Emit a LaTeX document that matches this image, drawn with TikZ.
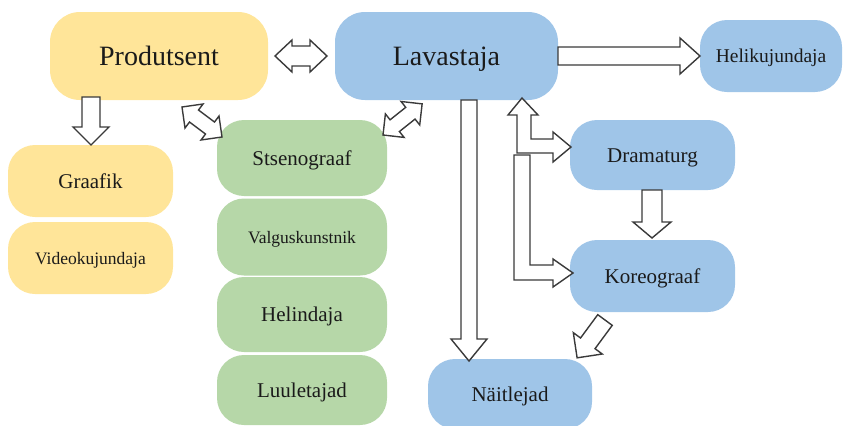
\documentclass[tikz,border=0pt]{standalone}
\usepackage{fontspec}
\setmainfont{Liberation Serif}
\definecolor{cyel}{HTML}{FFE599}
\definecolor{cgrn}{HTML}{B6D7A8}
\definecolor{cblu}{HTML}{9FC5E8}
\definecolor{cline}{HTML}{3A3A3A}
\definecolor{ctext}{HTML}{1A1A1A}
\newcommand\sarrowblk[6]{%
  \draw[blockarr, shift={#1}, rotate=#2] (0,-#4) -- ({#3-#6},-#4) -- ({#3-#6},-#5) -- (#3,0) -- ({#3-#6},#5) -- ({#3-#6},#4) -- (0,#4) -- cycle;}
\newcommand\darrowblk[6]{%
  \draw[blockarr, shift={#1}, rotate=#2] (0,0) -- (#6,-#5) -- (#6,-#4) -- ({#3-#6},-#4) -- ({#3-#6},-#5) -- (#3,0) -- ({#3-#6},#5) -- ({#3-#6},#4) -- (#6,#4) -- (#6,#5) -- cycle;}
\tikzset{
  box/.style={inner sep=0pt, text=ctext, align=center},
  bigbox/.style={box, rounded corners=30pt, font=\fontsize{28}{30}\selectfont, text height=21pt, text depth=1.4pt},
  medbox/.style={box, rounded corners=27pt, font=\fontsize{21}{23}\selectfont, text height=15.75pt, text depth=1pt},
  smallbox/.style={box, rounded corners=27pt, font=\fontsize{17.5}{19}\selectfont, text height=13.1pt, text depth=0.9pt},
  blockarr/.style={draw=cline, fill=white, line width=1.4pt, line join=miter},
}
\begin{document}
\begin{tikzpicture}[x=1pt, y=-1pt]
\useasboundingbox (0,0) rectangle (855,426);
% boxes
\node[bigbox, fill=cyel, minimum width=218pt, minimum height=88pt] (prod) at (159,56) {Produtsent};
\node[bigbox, fill=cblu, minimum width=223pt, minimum height=88pt] (lava) at (446.5,56) {Lavastaja};
\node[medbox, fill=cblu, minimum width=142pt, minimum height=72pt, font=\fontsize{19.5}{21}\selectfont, text height=14.6pt] (heli) at (771,56) {Helikujundaja};
\node[medbox, fill=cyel, minimum width=165pt, minimum height=72pt] (graa) at (90.5,181) {Graafik};
\node[smallbox, fill=cyel, minimum width=165pt, minimum height=72pt] (vide) at (90.5,258) {Videokujundaja};
\node[medbox, fill=cgrn, minimum width=170pt, minimum height=76pt] (stse) at (302,158) {Stsenograaf};
\node[smallbox, fill=cgrn, minimum width=170pt, minimum height=77pt] (valg) at (302,237) {Valguskunstnik};
\node[medbox, fill=cgrn, minimum width=170pt, minimum height=75pt] (hlnd) at (302,314.5) {Helindaja};
\node[medbox, fill=cgrn, minimum width=170pt, minimum height=70pt] (luul) at (302,390) {Luuletajad};
\node[medbox, fill=cblu, minimum width=165pt, minimum height=70pt] (dram) at (652.5,155) {Dramaturg};
\node[medbox, fill=cblu, minimum width=165pt, minimum height=72pt] (kore) at (652.5,276) {Koreograaf};
\node[medbox, fill=cblu, minimum width=164pt, minimum height=70pt] (nait) at (510,394) {Näitlejad};
% arrows
\darrowblk{(275,56)}{0}{52}{10}{16}{17}
\sarrowblk{(91,97)}{-90}{48}{9}{18}{18}
\darrowblk{(182,107)}{-36.87}{50}{7.5}{15}{15}
\darrowblk{(383,135)}{38.5}{50}{7.5}{15}{15}
\sarrowblk{(558,56)}{0}{142}{9}{18}{20}
\sarrowblk{(469,100)}{-90}{261}{8}{18}{22}
\sarrowblk{(652,190)}{-90}{48}{10}{19}{16}
\sarrowblk{(605,320)}{-126.4}{47}{9}{18}{18}
% fork arrow
\draw[blockarr] (517,153) -- (517,115) -- (508,115) -- (522,98) -- (538,115) -- (531,115) -- (531,139) -- (553,139) -- (553,132) -- (571,147) -- (553,162) -- (553,153) -- cycle;
\draw[blockarr] (514,155) -- (530,155) -- (530,265) -- (553,265) -- (553,259) -- (573,273) -- (553,287) -- (553,280) -- (514,280) -- cycle;
\end{tikzpicture}
\end{document}
